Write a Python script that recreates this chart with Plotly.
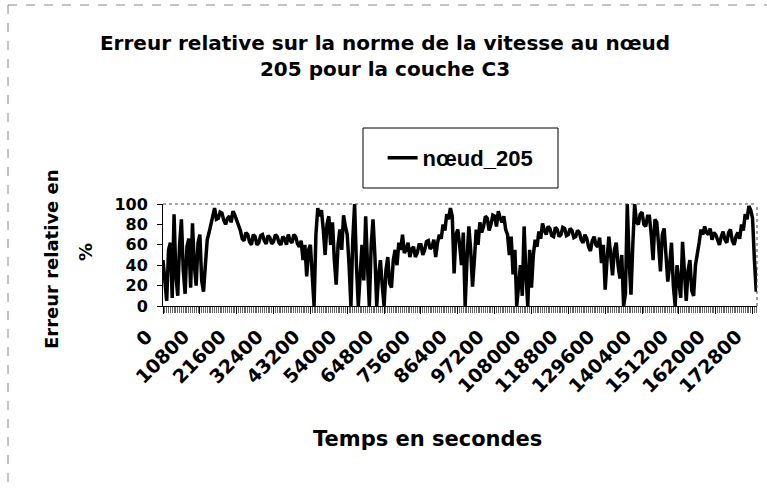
import plotly.graph_objects as go

# ---- data ----
step_s = 540
erreur_noeud_205 = [
    45, 20, 5, 55, 62, 8, 90, 30, 10, 60, 85, 35, 12, 58, 66, 18, 81, 40, 20, 62,
    70, 25, 14, 40, 65, 72, 80, 90, 96, 85, 86, 92, 91, 84, 80, 86, 88, 82, 93, 89,
    84, 80, 74, 66, 64, 72, 70, 63, 60, 70, 68, 60, 62, 69, 70, 64, 61, 69, 67, 61,
    63, 70, 68, 62, 60, 68, 66, 60, 70, 64, 62, 70, 68, 61, 58, 64, 45, 60, 29, 55,
    60, 30, 0, 70, 96, 88, 94, 75, 50, 80, 88, 60, 82, 45, 21, 60, 75, 55, 89, 78,
    70, 40, 0, 65, 100, 40, 0, 30, 60, 25, 88, 40, 0, 60, 85, 50, 0, 30, 45, 20,
    0, 35, 48, 22, 18, 45, 55, 40, 62, 55, 70, 52, 55, 62, 48, 56, 58, 48, 52, 60,
    60, 50, 55, 63, 64, 56, 58, 65, 48, 62, 70, 66, 80, 74, 90, 85, 96, 88, 32, 70,
    75, 60, 40, 72, 0, 45, 78, 55, 19, 45, 75, 60, 82, 72, 78, 88, 86, 74, 80, 89,
    88, 78, 93, 86, 82, 88, 75, 70, 50, 68, 31, 55, 0, 20, 40, 10, 78, 30, 0, 55,
    18, 50, 65, 58, 73, 66, 81, 74, 70, 78, 76, 69, 68, 77, 75, 68, 70, 77, 76, 69,
    70, 76, 74, 67, 68, 74, 72, 65, 62, 70, 66, 58, 54, 64, 68, 60, 58, 67, 42, 60,
    16, 45, 68, 50, 30, 55, 62, 40, 27, 50, 0, 12, 100, 45, 11, 60, 100, 82, 80, 90,
    92, 80, 78, 88, 88, 70, 45, 85, 82, 60, 34, 70, 76, 50, 24, 40, 62, 20, 0, 40,
    20, 8, 63, 30, 5, 35, 45, 15, 10, 40, 50, 62, 75, 70, 78, 72, 70, 76, 65, 72,
    70, 64, 60, 68, 73, 65, 62, 72, 75, 64, 60, 68, 72, 66, 80, 74, 90, 85, 98, 94,
    86, 45, 14, 38,
]
times = [i * step_s for i in range(len(erreur_noeud_205))]
tick_values = [0, 10800, 21600, 32400, 43200, 54000, 64800, 75600, 86400,
               97200, 108000, 118800, 129600, 140400, 151200, 162000, 172800]
tick_labels = [str(v) for v in tick_values]
y_ticks = [0, 20, 40, 60, 80, 100]

title_text = "Erreur relative sur la norme de la vitesse au nœud<br>205 pour la couche C3"
series_name = "nœud_205"
x_title = "Temps en secondes"
y_title_1 = "Erreur relative en"
y_title_2 = "%"

W, H = 767, 491
L, R, T, B = 163, 10, 204, 185
pw = W - L - R
ph = H - T - B


def px_x(x):
    return (x - L) / pw


def px_y(y):
    return (H - B - y) / ph


fig = go.Figure()
fig.add_trace(go.Scatter(
    x=times, y=erreur_noeud_205, mode="lines", name=series_name,
    line=dict(color="black", width=3.5),
))

tick_font_x = dict(family="DejaVu Sans", size=19, color="black", weight="bold")
tick_font_y = dict(family="DejaVu Sans", size=16, color="black", weight="bold")

fig.update_layout(
    width=W, height=H,
    margin=dict(l=L, r=R, t=T, b=B, autoexpand=False),
    paper_bgcolor="white", plot_bgcolor="white",
    title=dict(text=title_text, x=0.502, xanchor="center", xref="container",
               y=1 - 50 / H, yanchor="top", yref="container",
               font=dict(family="DejaVu Sans", size=20, color="black", weight="bold")),
    showlegend=True,
    legend=dict(x=0.501, y=px_y(158), xanchor="center", yanchor="middle",
                bgcolor="rgba(0,0,0,0)", borderwidth=0,
                font=dict(family="Liberation Sans", size=22, color="black", weight="bold")),
    xaxis=dict(range=[0, 174100], tickmode="array", tickvals=tick_values,
               ticktext=tick_labels, tickangle=-45, tickfont=tick_font_x,
               showline=True, linecolor="black", linewidth=1,
               ticks="outside", ticklen=7, tickcolor="black",
               minor=dict(ticks="outside", ticklen=6, tickmode="linear",
                          tick0=0, dtick=540, tickcolor="#666666", tickwidth=1),
               ticklabelstandoff=4, ticklabelshift=-16,
               showgrid=False, zeroline=False, automargin=False),
    yaxis=dict(range=[0, 100], tickmode="array", tickvals=y_ticks,
               tickfont=tick_font_y, showline=True, linecolor="black", linewidth=1,
               ticks="outside", ticklen=5, tickcolor="black", ticklabelstandoff=6,
               showgrid=False, zeroline=False, automargin=False),
    shapes=[
        # plot-area dotted border (top and right)
        dict(type="line", xref="paper", yref="paper", x0=0, x1=1, y0=1, y1=1,
             line=dict(color="#444444", width=1, dash="dot")),
        dict(type="line", xref="paper", yref="paper", x0=1, x1=1, y0=0, y1=1,
             line=dict(color="#444444", width=1, dash="dot")),
        # legend box
        dict(type="rect", xref="paper", yref="paper",
             x0=px_x(363), x1=px_x(558), y0=px_y(188), y1=px_y(128),
             line=dict(color="black", width=1), fillcolor="rgba(0,0,0,0)"),
        # chart-area border (top and left, faint)
        dict(type="line", xref="paper", yref="paper", x0=px_x(8), x1=px_x(767),
             y0=px_y(5), y1=px_y(5), line=dict(color="#888888", width=1, dash="dash")),
        dict(type="line", xref="paper", yref="paper", x0=px_x(8), x1=px_x(8),
             y0=px_y(5), y1=px_y(491), line=dict(color="#888888", width=1, dash="dash")),
    ],
    annotations=[
        dict(text=x_title, xref="paper", yref="paper", x=px_x(427), y=px_y(439),
             xanchor="center", yanchor="middle", showarrow=False,
             font=dict(family="DejaVu Sans", size=21, color="black", weight="bold")),
        dict(text=y_title_1, xref="paper", yref="paper", x=px_x(51), y=px_y(259),
             xanchor="center", yanchor="middle", showarrow=False, textangle=-90,
             font=dict(family="DejaVu Sans", size=18, color="black", weight="bold")),
        dict(text=y_title_2, xref="paper", yref="paper", x=px_x(85), y=px_y(252),
             xanchor="center", yanchor="middle", showarrow=False, textangle=-90,
             font=dict(family="DejaVu Sans", size=18, color="black", weight="bold")),
    ],
)

fig.write_html("out.html", config={"displayModeBar": False},
               post_script="document.body.style.margin='0px';")
